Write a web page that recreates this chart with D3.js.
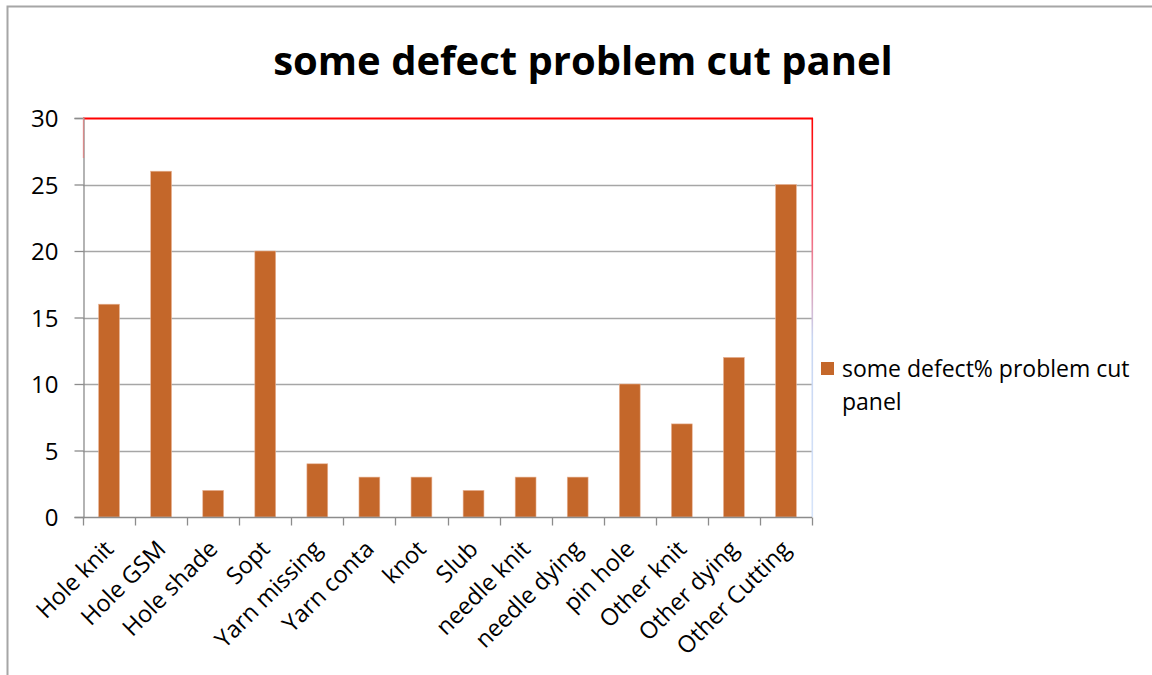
<!DOCTYPE html>
<html>
<head>
<meta charset="utf-8">
<script src="https://cdn.jsdelivr.net/npm/d3@7/dist/d3.min.js"></script>
<style>
  html, body { margin: 0; padding: 0; background: #fff; }
  svg { display: block; }
  text { font-family: "Open Sans", "Noto Sans", sans-serif; fill: #000; }
</style>
</head>
<body>
<svg id="chart" width="1152" height="675"></svg>
<script>
// Defect counts per category for cut panels
const categories = ["Hole knit", "Hole GSM", "Hole shade", "Sopt", "Yarn missing", "Yarn conta",
  "knot", "Slub", "needle knit", "needle dying", "pin hole", "Other knit", "Other dying", "Other Cutting"];
const values = [16, 26, 2, 20, 4, 3, 3, 2, 3, 3, 10, 7, 12, 25];
const yTicks = [0, 5, 10, 15, 20, 25, 30];
const titleText = "some defect problem cut panel";
const seriesName = ["some defect% problem cut", "panel"];

const svg = d3.select("#chart");
const W = 1152, H = 675;
const plot = { left: 83, right: 812, top: 118, bottom: 517 };
const barColor = "#c4672a";

// Outer chart frame (top and left edges visible)
svg.append("path")
  .attr("d", `M7.5,${H} L7.5,6.5 L${W},6.5`)
  .attr("fill", "none").attr("stroke", "#a6a6a6").attr("stroke-width", 2);

const x = d3.scaleBand().domain(categories).range([plot.left, plot.right]).paddingInner(0).paddingOuter(0);
const y = d3.scaleLinear().domain([0, 30]).range([plot.bottom, plot.top]);
const barW = x.bandwidth() / 2.5;

// Gridlines
svg.append("g").selectAll("line").data(yTicks.filter(d => d > 0 && d < 30)).join("line")
  .attr("x1", plot.left).attr("x2", plot.right)
  .attr("y1", d => Math.round(y(d)) + 0.5).attr("y2", d => Math.round(y(d)) + 0.5)
  .attr("stroke", "#a6a6a6").attr("stroke-width", 1.3);

// Plot-area border: red top, right edge fading to light blue
const defs = svg.append("defs");
const grad = defs.append("linearGradient").attr("id", "rightEdge")
  .attr("gradientUnits", "userSpaceOnUse")
  .attr("x1", 0).attr("y1", plot.top).attr("x2", 0).attr("y2", plot.bottom);
grad.append("stop").attr("offset", "0%").attr("stop-color", "#ff0000");
grad.append("stop").attr("offset", "30%").attr("stop-color", "#f26b80");
grad.append("stop").attr("offset", "55%").attr("stop-color", "#c8d6f2");
grad.append("stop").attr("offset", "100%").attr("stop-color", "#d6e4fa");

svg.append("rect")
  .attr("x", plot.right - 0.5).attr("y", plot.top)
  .attr("width", 1.6).attr("height", plot.bottom - plot.top)
  .attr("fill", "url(#rightEdge)");
svg.append("line")
  .attr("x1", plot.left).attr("x2", plot.right + 1)
  .attr("y1", plot.top + 0.5).attr("y2", plot.top + 0.5)
  .attr("stroke", "#ff0000").attr("stroke-width", 2);

// Bars
svg.append("g").selectAll("rect").data(values).join("rect")
  .attr("x", (d, i) => x(categories[i]) + (x.bandwidth() - barW) / 2)
  .attr("y", d => y(d))
  .attr("width", barW)
  .attr("height", d => y(0) - y(d))
  .attr("fill", barColor)
  .attr("stroke", "#e8b395").attr("stroke-width", 0.6);

// Y axis
const yAxis = svg.append("g").attr("transform", `translate(${plot.left + 0.5},0)`)
  .call(d3.axisLeft(y).tickValues(yTicks).tickSize(9).tickPadding(16).tickFormat(d3.format("d")));
yAxis.attr("font-size", null).attr("font-family", null);
yAxis.select(".domain").attr("stroke", "#8c8c8c").attr("stroke-width", 1.3);
yAxis.selectAll(".tick line").attr("stroke", "#8c8c8c").attr("stroke-width", 1.3);
yAxis.selectAll(".tick text").attr("font-size", 24).attr("fill", "#000").attr("dy", "0.36em");
// left spine near the top is tinted toward red
svg.append("line").attr("x1", plot.left + 0.5).attr("x2", plot.left + 0.5)
  .attr("y1", plot.top).attr("y2", plot.top + 40).attr("stroke", "#d98a8a").attr("stroke-width", 1.3);

// X axis with ticks at category boundaries
const xAxisG = svg.append("g").attr("transform", `translate(0,${plot.bottom + 0.5})`);
xAxisG.append("line").attr("x1", plot.left).attr("x2", plot.right)
  .attr("stroke", "#8c8c8c").attr("stroke-width", 1.3);
const boundaries = categories.map(c => x(c)).concat([plot.right]);
xAxisG.selectAll("line.tk").data(boundaries).join("line").attr("class", "tk")
  .attr("x1", d => Math.round(d) + 0.5).attr("x2", d => Math.round(d) + 0.5)
  .attr("y1", 0).attr("y2", 8).attr("stroke", "#8c8c8c").attr("stroke-width", 1.3);
xAxisG.selectAll("text").data(categories).join("text")
  .attr("text-anchor", "end")
  .attr("font-size", 23.5)
  .attr("transform", c => `translate(${x(c) + x.bandwidth() / 2 + 6},${33}) rotate(-45)`)
  .text(c => c);

// Title
svg.append("text")
  .attr("x", 583).attr("y", 75)
  .attr("text-anchor", "middle")
  .attr("font-size", 40).attr("font-weight", "bold")
  .text(titleText);

// Legend
const lg = svg.append("g");
lg.append("rect").attr("x", 821).attr("y", 362).attr("width", 13).attr("height", 13).attr("fill", barColor);
lg.append("text").attr("x", 842).attr("y", 377).attr("font-size", 23)
  .selectAll("tspan").data(seriesName).join("tspan")
  .attr("x", 842).attr("dy", (d, i) => i === 0 ? 0 : 33).text(d => d);
</script>
</body>
</html>
